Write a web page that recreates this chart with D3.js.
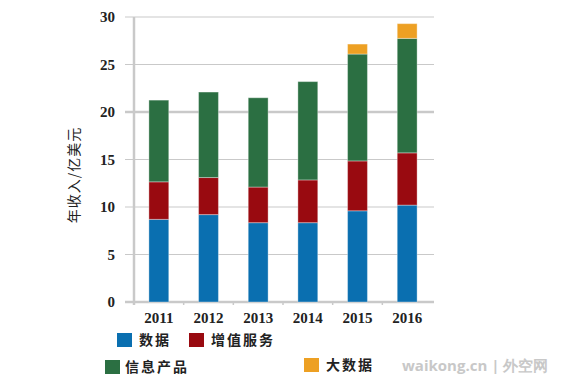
<!DOCTYPE html>
<html>
<head>
<meta charset="utf-8">
<script src="https://cdn.jsdelivr.net/npm/d3@7"></script>
<style>
  body { margin: 0; background: #fff; }
  svg { display: block; }
</style>
</head>
<body>
<div id="chart"></div>
<script>
// data
var years = ["2011", "2012", "2013", "2014", "2015", "2016"]
var shuju = [8.7, 9.2, 8.35, 8.35, 9.6, 10.2]          // 数据
var zengzhi = [3.95, 3.9, 3.75, 4.5, 5.25, 5.5]        // 增值服务
var xinxi = [8.6, 9.0, 9.4, 10.35, 11.25, 12.05]       // 信息产品
var dashuju = [0, 0, 0, 0, 1.05, 1.55]                 // 大数据
var yTicks = [0, 5, 10, 15, 20, 25, 30]

var keys = ["数据", "增值服务", "信息产品", "大数据"]
var colors = {"数据": "#0a6fb0", "增值服务": "#990a10", "信息产品": "#2b6f42", "大数据": "#eda023"}

var rows = years.map(function(y, i) {
  return {year: y, "数据": shuju[i], "增值服务": zengzhi[i], "信息产品": xinxi[i], "大数据": dashuju[i]}
})

var w = 576, h = 384
var margin = {top: 17, left: 134, right: 144, bottom: 82}
var width = w - margin.left - margin.right
var height = h - margin.top - margin.bottom

var svg = d3.select("#chart").append("svg")
  .attr("width", w)
  .attr("height", h)

var x = d3.scaleBand().domain(years).range([0, width]).paddingInner(0.6).paddingOuter(0.3)
var y = d3.scaleLinear().domain([0, 30]).range([height, 0])

var g = svg.append("g").attr("transform", "translate(" + margin.left + "," + margin.top + ")")

// gridlines
g.selectAll(".grid").data(yTicks).enter().append("line")
  .attr("x1", -9).attr("x2", width + 2)
  .attr("y1", d => y(d)).attr("y2", d => y(d))
  .attr("stroke", "#c9c9c9")
  .attr("stroke-width", d => (d == 20 || d == 0) ? 2.5 : 1.2)

// vertical axis line
g.append("line")
  .attr("x1", 0).attr("x2", 0)
  .attr("y1", 0).attr("y2", height + 3)
  .attr("stroke", "#c9c9c9").attr("stroke-width", 2.5)

// y tick labels
g.selectAll(".ylab").data(yTicks).enter().append("text")
  .attr("x", -19).attr("y", d => y(d))
  .attr("dy", "0.35em")
  .attr("text-anchor", "end")
  .style("font-family", "'Liberation Serif', serif")
  .style("font-size", "15px")
  .style("font-weight", "bold")
  .attr("fill", "#222")
  .text(d => d)

// x ticks at band boundaries
var step = x.step()
var bounds = years.slice(1).map(d => x(d) - (step - x.bandwidth()) / 2)
g.selectAll(".xt").data(bounds).enter().append("line")
  .attr("x1", d => d).attr("x2", d => d)
  .attr("y1", height).attr("y2", height + 3)
  .attr("stroke", "#c9c9c9").attr("stroke-width", 1.5)

// x labels
g.selectAll(".xlab").data(years).enter().append("text")
  .attr("x", d => x(d) + x.bandwidth() / 2)
  .attr("y", height + 21)
  .attr("text-anchor", "middle")
  .style("font-family", "'Liberation Serif', serif")
  .style("font-size", "15px")
  .style("font-weight", "bold")
  .attr("fill", "#222")
  .text(d => d)

// stacked bars
var series = d3.stack().keys(keys)(rows)
g.selectAll(".layer").data(series).enter().append("g")
  .attr("fill", d => colors[d.key])
  .selectAll("rect").data(d => d.filter(p => p[1] - p[0] > 0)).enter().append("rect")
  .attr("x", d => x(d.data.year))
  .attr("y", d => y(d[1]))
  .attr("width", x.bandwidth())
  .attr("height", d => y(d[0]) - y(d[1]))
  .attr("stroke", "rgba(255,255,255,0.35)")
  .attr("stroke-width", 1)

// y axis title
svg.append("text")
  .attr("transform", "translate(79,175) rotate(-90)")
  .attr("text-anchor", "middle")
  .style("font-family", "'Noto Sans CJK SC', sans-serif")
  .style("font-size", "14px")
  .style("letter-spacing", "1px")
  .attr("fill", "#222")
  .text("年收入/亿美元")

// legend
var legendPos = [
  {key: "数据", x: 117, y: 333},
  {key: "增值服务", x: 189, y: 333},
  {key: "信息产品", x: 105, y: 360},
  {key: "大数据", x: 304, y: 358}
]
var lg = svg.selectAll(".legend").data(legendPos).enter().append("g")
  .attr("transform", d => "translate(" + d.x + "," + d.y + ")")
lg.append("rect")
  .attr("width", 15).attr("height", 14)
  .attr("fill", d => colors[d.key])
lg.append("text")
  .attr("x", d => d.key == "信息产品" ? 20 : 22)
  .attr("y", 7).attr("dy", "0.35em")
  .style("font-family", "'Noto Sans CJK SC', sans-serif")
  .style("font-size", "14px")
  .style("font-weight", "bold")
  .style("letter-spacing", "2px")
  .attr("fill", "#222")
  .text(d => d.key)

// watermark
svg.append("text")
  .attr("x", 402).attr("y", 371)
  .style("font-family", "'Open Sans', sans-serif")
  .style("font-size", "15px")
  .style("font-weight", "bold")
  .attr("fill", "#c8c8c8")
  .text("waikong.cn | 外空网")
</script>
</body>
</html>
